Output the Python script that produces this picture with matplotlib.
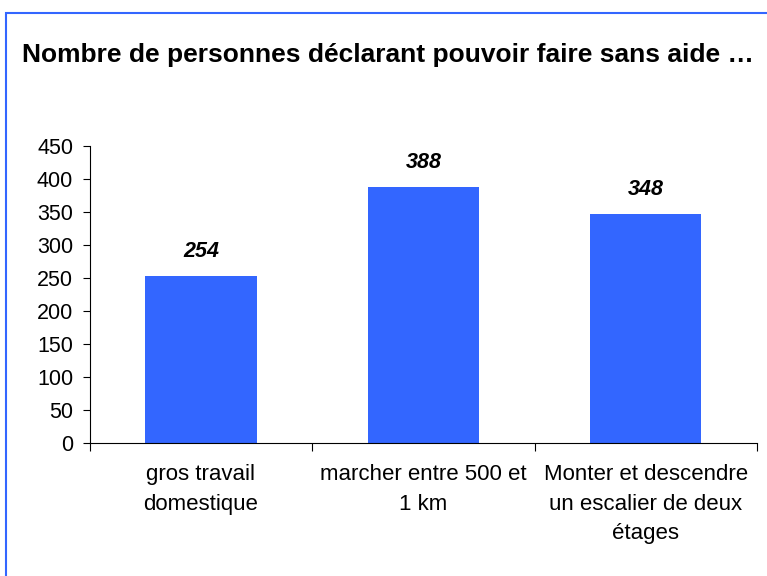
import matplotlib.pyplot as plt
from matplotlib.patches import Rectangle

plt.rcParams['font.family'] = ['Liberation Sans', 'DejaVu Sans']

categories = ['gros travail\ndomestique', 'marcher entre 500 et\n1 km',
              'Monter et descendre\nun escalier de deux\nétages']
values = [254, 388, 348]
title = 'Nombre de personnes déclarant pouvoir faire sans aide …'

fig = plt.figure(figsize=(7.67, 5.76), dpi=100)
fig.patches.append(Rectangle((0.008, -0.1), 1.2, 1.077, transform=fig.transFigure,
                             fill=False, edgecolor='#3366FF', linewidth=1.5))
fig.text(0.029, 0.904, title, fontsize=19, fontweight='bold', va='center')

ax = fig.add_axes([0.117, 0.231, 0.870, 0.515])
x = range(len(values))
ax.bar(x, values, width=0.5, color='#3366FF')
for xi, v in zip(x, values):
    ax.text(xi, v + 21, str(v), ha='center', va='bottom', fontsize=15.5,
            fontweight='bold', fontstyle='italic')

ax.set_xlim(-0.5, len(values) - 0.5)
ax.set_ylim(0, 450)
ax.set_yticks(range(0, 451, 50))
ax.tick_params(axis='y', labelsize=15.5, length=5, direction='out', pad=7)
ax.set_xticks([i - 0.5 for i in range(len(values) + 1)])
ax.set_xticklabels([])
ax.tick_params(axis='x', length=6, direction='out')
ax.set_xticks(list(x), categories, minor=True)
ax.tick_params(axis='x', which='minor', length=0, labelsize=16, pad=15)
for lab in ax.get_xticklabels(minor=True):
    lab.set_linespacing(1.55)
ax.spines['top'].set_visible(False)
ax.spines['right'].set_visible(False)

fig.savefig('out.png', dpi=100)
